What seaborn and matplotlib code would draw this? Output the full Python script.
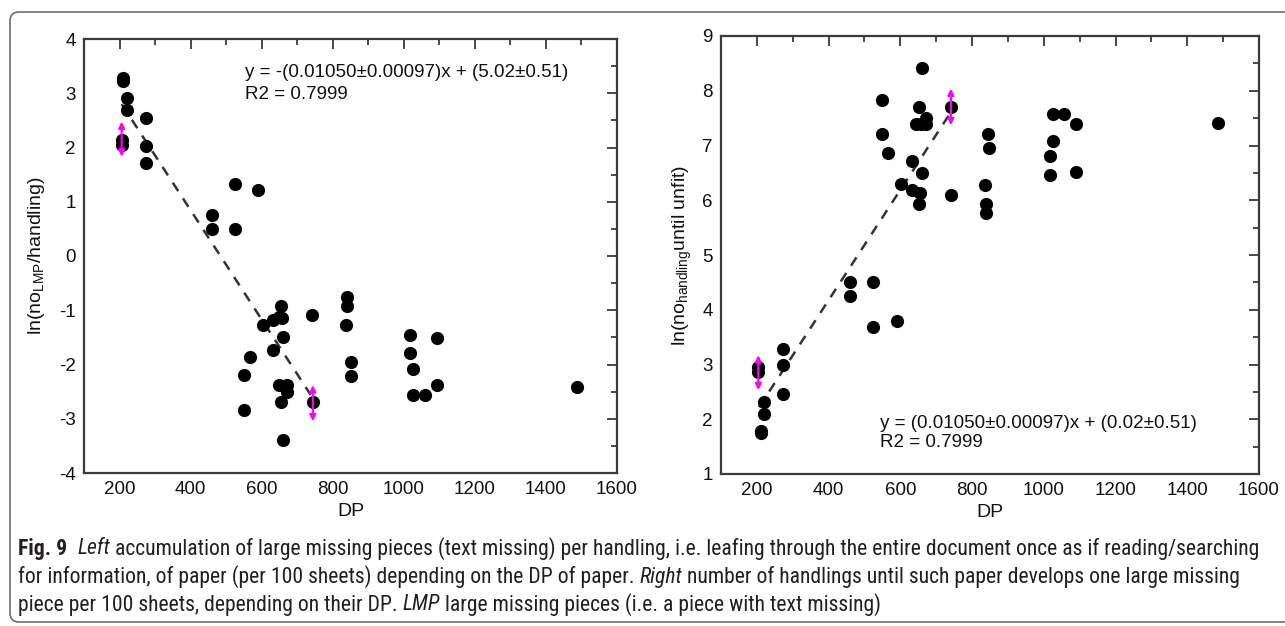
import matplotlib
matplotlib.use("Agg")
import matplotlib.pyplot as plt
import seaborn as sns
import pandas as pd
from matplotlib.patches import FancyBboxPatch
from matplotlib.transforms import IdentityTransform
from matplotlib.ticker import MultipleLocator
from matplotlib import font_manager

# ---------------- data ----------------
left_dp = [211, 211, 220, 220, 275, 206, 206, 275, 275, 525, 591, 461, 461, 525,
           839, 839, 743, 655, 633, 649, 656, 603, 837, 661, 633, 567, 851, 550,
           851, 649, 671, 672, 655, 744, 550, 661,
           1018, 1093, 1018, 1027, 1093, 1027, 1060, 1487]
left_ln = [3.28, 3.23, 2.91, 2.69, 2.55, 2.14, 2.05, 2.02, 1.72, 1.33, 1.22, 0.76, 0.50, 0.50,
           -0.75, -0.92, -1.09, -0.92, -1.18, -1.12, -1.15, -1.28, -1.28, -1.50, -1.73, -1.86,
           -1.95, -2.20, -2.21, -2.38, -2.38, -2.50, -2.70, -2.70, -2.83, -3.40,
           -1.46, -1.51, -1.79, -2.08, -2.38, -2.57, -2.57, -2.42]

right_dp = [660, 550, 653, 741, 671, 644, 658, 672, 550, 565, 633, 660, 601, 633, 655,
            653, 741, 845, 847, 836, 839, 839, 1025, 1056, 1091, 1025, 1017, 1017, 1091,
            1487, 460, 460, 523, 523, 590, 274, 274, 274, 204, 204, 220, 220, 211, 211]
right_ln = [8.41, 7.83, 7.71, 7.71, 7.51, 7.39, 7.39, 7.39, 7.21, 6.87, 6.72, 6.49, 6.29,
            6.19, 6.14, 5.94, 6.10, 7.21, 6.96, 6.28, 5.93, 5.77, 7.58, 7.57, 7.39, 7.08,
            6.80, 6.46, 6.51, 7.42, 4.51, 4.25, 4.51, 3.68, 3.79, 3.28, 2.99, 2.46, 2.96,
            2.87, 2.32, 2.10, 1.785, 1.74]

left_fit_x = [206, 738]
left_fit_y = [2.80, -2.56]
right_fit_x = [206, 738]
right_fit_y = [2.22, 7.58]

left_err_x = [206, 744]
left_err_lo = [1.83, -3.05]
left_err_hi = [2.48, -2.38]
right_err_x = [204, 741]
right_err_lo = [2.53, 7.37]
right_err_hi = [3.17, 8.04]

left_eq = ["y = -(0.01050\u00b10.00097)x + (5.02\u00b10.51)", "R2 = 0.7999"]
right_eq = ["y = (0.01050\u00b10.00097)x + (0.02\u00b10.51)", "R2 = 0.7999"]

x_ticks = [200, 400, 600, 800, 1000, 1200, 1400, 1600]
left_y_ticks = [-4, -3, -2, -1, 0, 1, 2, 3, 4]
right_y_ticks = [1, 2, 3, 4, 5, 6, 7, 8, 9]

caption_lines = [
    [("Fig. 9", "bold"), ("  ", "sp"), ("Left", "italic"),
     (" accumulation of large missing pieces (text missing) per handling, i.e. leafing through the entire document once as if reading/searching", "normal")],
    [("for information, of paper (per 100 sheets) depending on the DP of paper.", "normal"), (" ", "sp"),
     ("Right", "italic"), (" number of handlings until such paper develops one large missing", "normal")],
    [("piece per 100 sheets, depending on their DP.", "normal"), (" ", "sp"), ("LMP", "italic"),
     (" large missing pieces (i.e. a piece with text missing)", "normal")],
]

# ---------------- style ----------------
sns.set_theme(style="white")
plt.rcParams["font.family"] = ["Liberation Sans", "DejaVu Sans"]
plt.rcParams["mathtext.fontset"] = "custom"
plt.rcParams["mathtext.rm"] = "Liberation Sans"
plt.rcParams["axes.unicode_minus"] = False

W, H = 1285, 626
fig = plt.figure(figsize=(W / 100, H / 100), dpi=100)
fig.patch.set_facecolor("white")

axL = fig.add_axes([84 / W, 1 - 473 / H, 533 / W, 434 / H])
axR = fig.add_axes([721 / W, 1 - 474 / H, 538 / W, 438 / H])

spine_col = "#3a3a3a"
tick_fs = 13.5


def style_axis(ax, yticks, ylim):
    ax.set_xlim(100, 1600)
    ax.set_ylim(*ylim)
    ax.set_xticks(x_ticks)
    ax.set_yticks(yticks)
    ax.xaxis.set_minor_locator(MultipleLocator(100))
    ax.yaxis.set_minor_locator(MultipleLocator(0.5))
    ax.tick_params(which="both", direction="in", top=True, right=True,
                   color=spine_col, width=1.3, labelsize=tick_fs, labelcolor="#111111")
    ax.tick_params(which="major", length=7, pad=6)
    ax.tick_params(which="minor", length=4)
    for s in ax.spines.values():
        s.set_color(spine_col)
        s.set_linewidth(1.6)
    ax.grid(False)


def draw_panel(ax, dp, ln, fx, fy, ex, elo, ehi):
    df = pd.DataFrame({"DP": dp, "ln": ln})
    sns.scatterplot(data=df, x="DP", y="ln", ax=ax, color="black", s=90,
                    edgecolor="black", linewidth=0, zorder=3)
    fdf = pd.DataFrame({"DP": fx, "fit": fy})
    sns.lineplot(data=fdf, x="DP", y="fit", ax=ax, color="#333333",
                 linestyle=(0, (4, 3.5)), linewidth=1.8, zorder=2)
    for x, lo, hi in zip(ex, elo, ehi):
        ax.annotate("", xy=(x, hi), xytext=(x, lo),
                    arrowprops=dict(arrowstyle="<|-|>", color="#ff00ff", lw=1.6,
                                    mutation_scale=9, shrinkA=0, shrinkB=0),
                    zorder=4)


draw_panel(axL, left_dp, left_ln, left_fit_x, left_fit_y, left_err_x, left_err_lo, left_err_hi)
draw_panel(axR, right_dp, right_ln, right_fit_x, right_fit_y, right_err_x, right_err_lo, right_err_hi)

style_axis(axL, left_y_ticks, (-4, 4))
style_axis(axR, right_y_ticks, (1, 9))

lab_fs = 14
axL.set_xlabel("DP", fontsize=lab_fs, color="#111111")
axR.set_xlabel("DP", fontsize=lab_fs, color="#111111")
axL.set_ylabel(r"ln(no$_\mathregular{LMP}$/handling)", fontsize=lab_fs, color="#111111")
axR.set_ylabel(r"ln(no$_\mathregular{handling}$until unfit)", fontsize=lab_fs, color="#111111")
axL.xaxis.set_label_coords(0.5, -0.070)
axR.xaxis.set_label_coords(0.5, -0.068)
axL.yaxis.set_label_coords(-0.070, 0.5)
axR.yaxis.set_label_coords(-0.050, 0.5)

eq_fs = 13.5
axL.text(0.302, 0.922, left_eq[0], transform=axL.transAxes, fontsize=eq_fs,
         ha="left", va="center", color="#111111")
axL.text(0.302, 0.871, left_eq[1], transform=axL.transAxes, fontsize=eq_fs,
         ha="left", va="center", color="#111111")
axR.text(0.2955, 0.1164, right_eq[0], transform=axR.transAxes, fontsize=eq_fs,
         ha="left", va="center", color="#111111")
axR.text(0.2955, 0.0708, right_eq[1], transform=axR.transAxes, fontsize=eq_fs,
         ha="left", va="center", color="#111111")

# ---------------- border ----------------
box = FancyBboxPatch((10, 4), 1400, 610, boxstyle="round,pad=0,rounding_size=9",
                     transform=IdentityTransform(), facecolor="none",
                     edgecolor="#6e6e6e", linewidth=1.2)
fig.add_artist(box)

# ---------------- caption ----------------
cap_family = ["Roboto", "Liberation Sans", "DejaVu Sans"]
for cand in ["Liberation Sans Narrow", "Roboto Condensed", "Open Sans Condensed"]:
    try:
        font_manager.findfont(font_manager.FontProperties(family=cand),
                              fallback_to_default=False)
        cap_family = [cand, "Liberation Sans", "DejaVu Sans"]
        break
    except Exception:
        pass

renderer = fig.canvas.get_renderer()


def seg_props(kind):
    if kind == "bold":
        return dict(fontweight="bold", fontstyle="normal")
    if kind == "italic":
        return dict(fontweight="normal", fontstyle="italic")
    return dict(fontweight="normal", fontstyle="normal")


def measure(s, fs, kind):
    t = fig.text(0, 0, s, fontsize=fs, family=cap_family, **seg_props(kind))
    w = t.get_window_extent(renderer).width
    t.remove()
    return w


def space_width(fs):
    return measure("x x", fs, "normal") - measure("xx", fs, "normal")


def line_width(line, fs):
    total = 0.0
    for s, kind in line:
        if kind == "sp":
            total += space_width(fs) * len(s)
        else:
            lead = len(s) - len(s.lstrip(" "))
            trail = len(s) - len(s.rstrip(" "))
            total += measure(s.strip(" "), fs, kind) + (lead + trail) * space_width(fs)
    return total


base_fs = 12.0
w0 = line_width(caption_lines[0], base_fs)
cap_fs = base_fs * 1245.0 / w0
cap_fs = max(min(cap_fs, 17.0), 10.0)

cap_y = [549, 577, 605]
for line, yy in zip(caption_lines, cap_y):
    x = 18.0
    sw = space_width(cap_fs)
    for s, kind in line:
        if kind == "sp":
            x += sw * len(s)
            continue
        lead = len(s) - len(s.lstrip(" "))
        trail = len(s) - len(s.rstrip(" "))
        x += lead * sw
        core = s.strip(" ")
        t = fig.text(x / W, 1 - yy / H, core, fontsize=cap_fs, family=cap_family,
                     ha="left", va="center", color="#231f20", **seg_props(kind))
        x += t.get_window_extent(renderer).width + trail * sw

fig.savefig("out.png", dpi=100)
